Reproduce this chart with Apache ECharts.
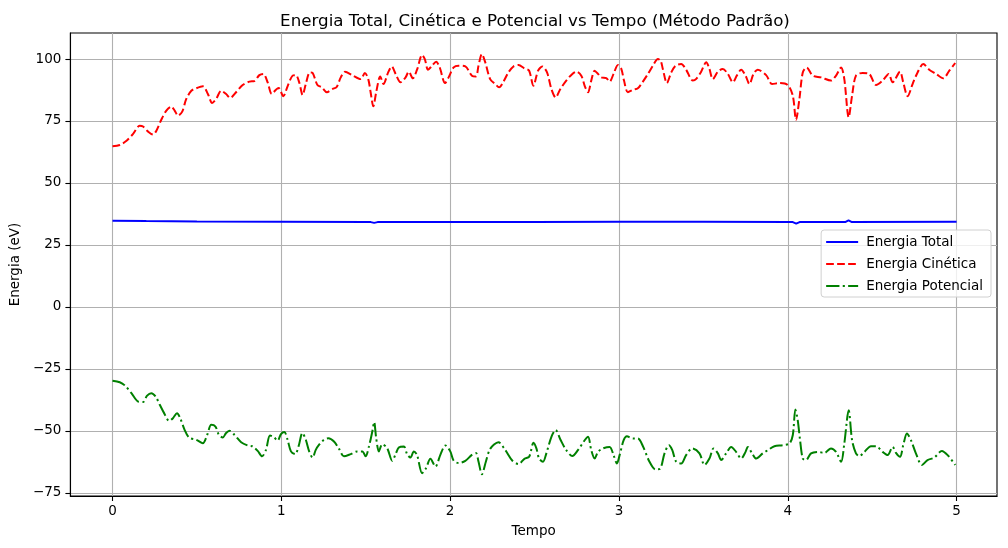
<!DOCTYPE html>
<html>
<head>
<meta charset="utf-8">
<script src="https://cdn.jsdelivr.net/npm/echarts@6/dist/echarts.min.js"></script>
<style>html,body{margin:0;padding:0;background:#fff}#c{width:1008px;height:548px}</style>
</head>
<body>
<div id="c"></div>
<script>
const titleText = 'Energia Total, Cinética e Potencial vs Tempo (Método Padrão)';
const xName = 'Tempo';
const yName = 'Energia (eV)';
const seriesNames = ['Energia Total', 'Energia Cinética', 'Energia Potencial'];
const xTicks = [0, 1, 2, 3, 4, 5];
const yTicks = [-75, -50, -25, 0, 25, 50, 75, 100];

const totTime = [0, 0.2, 0.5, 1.0, 1.5, 1.53, 1.55, 1.57, 2.0, 2.5, 3.0, 3.5, 4.0, 4.03, 4.05, 4.07, 4.34, 4.36, 4.38, 5.0];
const totValues = [34.8, 34.6, 34.4, 34.3, 34.2, 34.2, 33.9, 34.2, 34.2, 34.2, 34.3, 34.3, 34.2, 34.2, 33.6, 34.2, 34.2, 34.9, 34.2, 34.3];

const kinTime = [0, 0.043, 0.083, 0.122, 0.161, 0.181, 0.211, 0.24, 0.26, 0.289, 0.319, 0.348, 0.368, 0.388, 0.413, 0.437, 0.467, 0.496, 0.535, 0.565, 0.59, 0.614, 0.644, 0.673, 0.697, 0.732, 0.771, 0.811, 0.84, 0.87, 0.893, 0.919, 0.943, 0.968, 0.984, 1.012, 1.037, 1.067, 1.086, 1.106, 1.126, 1.145, 1.169, 1.185, 1.214, 1.24, 1.27, 1.303, 1.328, 1.352, 1.377, 1.42, 1.47, 1.495, 1.515, 1.529, 1.545, 1.562, 1.586, 1.605, 1.633, 1.654, 1.677, 1.706, 1.736, 1.755, 1.779, 1.804, 1.834, 1.85, 1.869, 1.893, 1.917, 1.938, 1.97, 1.991, 2.021, 2.05, 2.09, 2.129, 2.153, 2.168, 2.188, 2.208, 2.237, 2.267, 2.29, 2.316, 2.345, 2.375, 2.405, 2.44, 2.468, 2.493, 2.521, 2.546, 2.574, 2.6, 2.625, 2.653, 2.688, 2.724, 2.748, 2.777, 2.797, 2.817, 2.836, 2.856, 2.876, 2.895, 2.925, 2.945, 2.968, 2.994, 3.014, 3.03, 3.053, 3.083, 3.112, 3.142, 3.172, 3.201, 3.231, 3.247, 3.26, 3.284, 3.31, 3.335, 3.369, 3.398, 3.438, 3.458, 3.487, 3.517, 3.536, 3.556, 3.586, 3.615, 3.645, 3.675, 3.698, 3.724, 3.75, 3.773, 3.797, 3.822, 3.872, 3.907, 3.951, 4.0, 4.03, 4.049, 4.069, 4.089, 4.112, 4.148, 4.197, 4.256, 4.286, 4.316, 4.335, 4.361, 4.381, 4.404, 4.444, 4.483, 4.523, 4.562, 4.598, 4.621, 4.665, 4.684, 4.71, 4.74, 4.769, 4.803, 4.838, 4.878, 4.921, 4.957, 4.992];
const kinValues = [64.8, 65.3, 67.0, 69.8, 73.1, 72.8, 70.7, 69.5, 71.1, 75.5, 79.2, 80.8, 79.2, 77.2, 78.8, 83.9, 87.2, 88.2, 89.0, 85.9, 82.3, 83.9, 87.2, 85.9, 84.3, 86.6, 89.5, 90.9, 91.1, 93.5, 94.0, 90.6, 85.9, 87.6, 88.3, 85.0, 89.0, 93.3, 93.5, 90.6, 85.5, 89.9, 94.6, 94.4, 89.5, 88.6, 86.6, 87.9, 88.7, 92.6, 94.9, 93.5, 91.9, 94.4, 91.9, 86.6, 80.9, 86.6, 93.0, 89.9, 94.6, 97.0, 94.0, 90.6, 92.6, 94.9, 92.2, 95.7, 101.6, 100.0, 95.7, 97.3, 98.9, 96.6, 90.3, 92.6, 96.6, 97.3, 97.0, 93.3, 93.0, 97.3, 102.0, 98.7, 91.9, 89.9, 88.6, 90.9, 94.6, 97.0, 97.6, 96.2, 95.3, 89.2, 95.3, 97.0, 94.6, 87.9, 84.5, 87.9, 91.3, 94.0, 94.9, 93.3, 89.2, 86.6, 91.3, 95.3, 94.0, 92.6, 92.3, 90.9, 94.0, 97.6, 96.0, 91.3, 86.6, 87.6, 88.2, 90.9, 94.0, 97.3, 100.0, 99.3, 96.0, 90.3, 94.6, 97.3, 98.0, 95.7, 91.3, 92.0, 94.9, 98.7, 96.0, 91.9, 94.9, 96.0, 94.0, 90.6, 93.3, 95.7, 93.3, 89.9, 94.0, 95.7, 93.5, 89.9, 90.3, 89.5, 85.2, 75.5, 83.9, 94.6, 96.6, 93.3, 92.6, 91.3, 93.3, 96.6, 91.9, 76.5, 85.2, 93.3, 94.4, 94.0, 89.5, 91.3, 94.0, 90.6, 94.9, 90.6, 85.0, 90.0, 94.6, 98.0, 95.7, 94.0, 92.2, 95.3, 98.4];

const potTime = [0, 0.043, 0.073, 0.112, 0.152, 0.181, 0.205, 0.23, 0.256, 0.28, 0.309, 0.335, 0.358, 0.382, 0.401, 0.427, 0.453, 0.496, 0.535, 0.561, 0.585, 0.61, 0.63, 0.653, 0.673, 0.693, 0.722, 0.762, 0.801, 0.83, 0.86, 0.886, 0.909, 0.933, 0.958, 0.978, 0.998, 1.018, 1.037, 1.057, 1.082, 1.102, 1.125, 1.145, 1.165, 1.185, 1.204, 1.224, 1.253, 1.279, 1.312, 1.342, 1.371, 1.411, 1.45, 1.48, 1.499, 1.519, 1.539, 1.55, 1.562, 1.578, 1.598, 1.627, 1.657, 1.677, 1.696, 1.726, 1.745, 1.765, 1.785, 1.804, 1.834, 1.857, 1.883, 1.913, 1.942, 1.972, 2.001, 2.021, 2.05, 2.09, 2.129, 2.153, 2.168, 2.188, 2.212, 2.237, 2.286, 2.326, 2.369, 2.405, 2.44, 2.468, 2.494, 2.511, 2.527, 2.55, 2.57, 2.6, 2.625, 2.653, 2.688, 2.724, 2.757, 2.797, 2.817, 2.836, 2.856, 2.876, 2.905, 2.945, 2.968, 2.988, 3.004, 3.028, 3.047, 3.083, 3.112, 3.142, 3.181, 3.217, 3.245, 3.27, 3.296, 3.316, 3.339, 3.369, 3.398, 3.434, 3.477, 3.507, 3.536, 3.56, 3.586, 3.606, 3.635, 3.665, 3.694, 3.724, 3.75, 3.763, 3.789, 3.813, 3.852, 3.882, 3.921, 3.97, 4.01, 4.03, 4.045, 4.059, 4.073, 4.089, 4.108, 4.138, 4.178, 4.217, 4.256, 4.286, 4.316, 4.335, 4.361, 4.381, 4.404, 4.424, 4.454, 4.493, 4.523, 4.562, 4.592, 4.621, 4.641, 4.665, 4.684, 4.706, 4.73, 4.759, 4.795, 4.828, 4.868, 4.913, 4.947, 4.992];
const potValues = [-29.8, -30.4, -31.7, -34.8, -38.2, -38.4, -35.8, -34.8, -36.2, -39.5, -43.3, -46.0, -44.9, -42.9, -44.9, -49.6, -52.7, -53.6, -55.0, -51.6, -47.6, -48.3, -51.6, -52.7, -50.9, -50.0, -51.6, -54.6, -55.9, -56.3, -58.1, -60.3, -57.7, -51.9, -52.7, -54.0, -51.3, -50.5, -53.6, -58.3, -59.4, -56.3, -50.9, -53.6, -58.3, -60.8, -57.7, -55.6, -53.6, -53.0, -54.3, -57.3, -60.3, -59.4, -58.3, -58.3, -60.3, -56.3, -50.3, -46.5, -53.0, -58.3, -55.4, -57.0, -62.1, -59.4, -56.7, -56.3, -59.4, -60.8, -58.3, -59.7, -67.1, -65.1, -61.3, -64.4, -59.7, -55.9, -58.3, -62.1, -63.0, -62.1, -59.7, -59.0, -62.4, -67.5, -62.4, -57.3, -54.6, -57.7, -62.1, -63.4, -61.3, -60.5, -54.8, -57.1, -61.2, -62.5, -59.1, -52.4, -49.7, -53.5, -57.8, -60.2, -57.8, -53.8, -52.4, -57.8, -61.2, -58.5, -57.1, -56.5, -59.8, -63.2, -59.8, -53.8, -52.2, -53.1, -53.1, -56.2, -62.5, -65.6, -65.2, -59.1, -55.8, -57.8, -62.5, -63.2, -59.8, -57.1, -59.1, -63.8, -61.2, -57.1, -59.1, -61.8, -59.1, -56.5, -58.5, -61.2, -58.5, -56.5, -59.1, -61.2, -59.1, -57.8, -56.2, -55.8, -55.1, -51.7, -41.4, -45.7, -53.8, -61.2, -61.8, -59.1, -58.5, -58.9, -57.1, -58.5, -62.5, -55.1, -41.7, -53.8, -59.1, -60.2, -58.5, -56.2, -56.2, -58.5, -59.8, -56.5, -58.9, -60.5, -55.8, -51.1, -53.8, -59.1, -63.8, -61.8, -60.8, -58.1, -59.8, -63.8];

const pairs = (ts, vs) => ts.map((t, i) => [t, vs[i]]);
const FONT = 'DejaVu Sans';
const FS = 13.5;
const minus = v => String(v).replace('-', '\u2212');

const chart = echarts.init(document.getElementById('c'), null, {renderer: 'canvas'});
chart.setOption({
  animation: false,
  backgroundColor: '#fff',
  textStyle: {fontFamily: FONT},
  title: {
    text: titleText,
    left: 530, top: 8, textAlign: 'center',
    textStyle: {fontFamily: FONT, fontSize: 16.7, fontWeight: 'normal', color: '#000'}
  },
  grid: {left: 68, right: 11, top: 33, bottom: 52, show: true, borderColor: '#000', borderWidth: 1.1, backgroundColor: 'transparent'},
  legend: {
    orient: 'vertical', right: 17, top: 230,
    padding: [5, 8, 4, 4], itemGap: 8, itemWidth: 32, itemHeight: 14,
    borderColor: '#d0d0d0', borderWidth: 1, borderRadius: 3,
    backgroundColor: 'rgba(255,255,255,0.8)',
    itemStyle: {opacity: 0},
    textStyle: {fontFamily: FONT, fontSize: FS, color: '#000', padding: [0, 0, 0, 3]},
    data: seriesNames
  },
  xAxis: {
    type: 'value', min: -0.2495, max: 5.2395,
    name: xName, nameLocation: 'middle', nameGap: 28,
    nameTextStyle: {fontFamily: FONT, fontSize: FS, color: '#000'},
    axisLine: {show: true, onZero: false, lineStyle: {color: '#000', width: 1.1}},
    axisTick: {show: true, length: 5, customValues: xTicks, lineStyle: {color: '#000', width: 1.1}},
    axisLabel: {customValues: xTicks, margin: 8, fontFamily: FONT, fontSize: FS, color: '#000', formatter: v => minus(v)},
    splitLine: {show: true, lineStyle: {color: '#b0b0b0', width: 1.1}}
  },
  yAxis: {
    type: 'value', min: -76.3, max: 110.5,
    name: yName, nameLocation: 'middle', nameGap: 45, nameRotate: 90,
    nameTextStyle: {fontFamily: FONT, fontSize: FS, color: '#000'},
    axisLine: {show: true, onZero: false, lineStyle: {color: '#000', width: 1.1}},
    axisTick: {show: true, length: 5, customValues: yTicks, lineStyle: {color: '#000', width: 1.1}},
    axisLabel: {customValues: yTicks, margin: 9, fontFamily: FONT, fontSize: FS, color: '#000', formatter: v => minus(v)},
    splitLine: {show: true, lineStyle: {color: '#b0b0b0', width: 1.1}}
  },
  series: [
    {name: seriesNames[0], type: 'line', symbol: 'none', data: pairs(totTime, totValues),
     lineStyle: {color: '#0000ff', width: 2}, itemStyle: {color: '#0000ff'}},
    {name: seriesNames[1], type: 'line', symbol: 'none', smooth: 0.3, data: pairs(kinTime, kinValues),
     lineStyle: {color: '#ff0000', width: 2, type: [7.7, 3.3]}, itemStyle: {color: '#ff0000'}},
    {name: seriesNames[2], type: 'line', symbol: 'none', smooth: 0.3, data: pairs(potTime, potValues),
     lineStyle: {color: '#008000', width: 2, type: [13.3, 3.3, 2.1, 3.3]}, itemStyle: {color: '#008000'}}
  ]
});
</script>
</body>
</html>
